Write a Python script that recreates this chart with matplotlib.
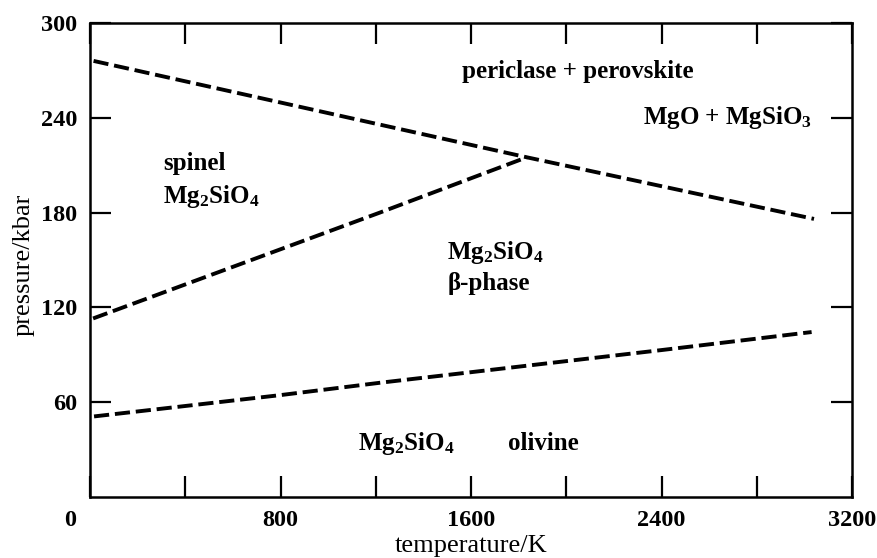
import matplotlib
matplotlib.use("Agg")
import matplotlib.pyplot as plt
import matplotlib.transforms as mtransforms
import numpy as np

plt.rcParams['font.family'] = ['Liberation Serif', 'DejaVu Serif']
plt.rcParams['mathtext.fontset'] = 'custom'
plt.rcParams['mathtext.rm'] = 'Liberation Serif:bold'
plt.rcParams['mathtext.it'] = 'Liberation Serif:bold'
plt.rcParams['mathtext.bf'] = 'Liberation Serif:bold'

# phase boundaries (T in K, p in kbar)
T_perov = [15, 1834, 3040]
p_perov = [276, 215, 176]

T_spinel = [13, 1217, 1834]
p_spinel = [113, 180, 215]

T_olivine = [17, 800, 1217, 1600, 2057, 2400, 3030]
p_olivine = [51, 64.5, 72.3, 79, 87, 93, 104.4]

xticks = np.arange(0, 3201, 400)
xlabels = ["0", "", "800", "", "1600", "", "2400", "", "3200"]
yticks = [60, 120, 180, 240, 300]

fig = plt.figure(figsize=(8.78, 5.58), dpi=100)
ax = fig.add_axes([0.1025, 0.1093, 0.868, 0.8495])

for T, p in [(T_perov, p_perov), (T_spinel, p_spinel), (T_olivine, p_olivine)]:
    ax.plot(T, p, color="black", lw=2.8, dashes=(3.9, 1.5), dash_capstyle="butt")

ax.set_xlim(0, 3200)
ax.set_ylim(0, 300)
ax.set_xticks(xticks)
ax.set_xticklabels(xlabels)
ax.set_yticks(yticks)
ax.tick_params(direction="in", length=15, width=1.6, top=True, right=True,
               labelsize=17.5, pad=9)
for lbl in ax.get_xticklabels() + ax.get_yticklabels():
    lbl.set_fontweight("bold")
for s in ax.spines.values():
    s.set_linewidth(1.8)

# shared origin label sits left of the corner
off = mtransforms.ScaledTranslation(-20 / 100, 0, fig.dpi_scale_trans)
t0 = ax.xaxis.get_major_ticks()[0].label1
t0.set_transform(t0.get_transform() + off)

ax.set_xlabel("temperature/K", fontsize=19, va="center")
ax.set_ylabel("pressure/kbar", fontsize=19, va="center")
ax.xaxis.set_label_coords(0.5, -0.103)
ax.yaxis.set_label_coords(-0.087, 0.49)

tk = dict(fontsize=18, fontweight="bold", color="black")
ax.text(2048, 269, "periclase + perovskite", ha="center", va="center", **tk)
ax.text(2678, 240, "MgO + MgSiO$_3$", ha="center", va="center", **tk)
ax.text(306, 211, "spinel", ha="left", va="center", **tk)
ax.text(306, 190, "Mg$_2$SiO$_4$", ha="left", va="center", **tk)
ax.text(1500, 155, "Mg$_2$SiO$_4$", ha="left", va="center", **tk)
ax.text(1500, 135, "β-phase", ha="left", va="center", **tk)
ax.text(1125, 34, "Mg$_2$SiO$_4$", ha="left", va="center", **tk)
ax.text(1754, 34, "olivine", ha="left", va="center", **tk)

fig.savefig("out.png", dpi=100)
